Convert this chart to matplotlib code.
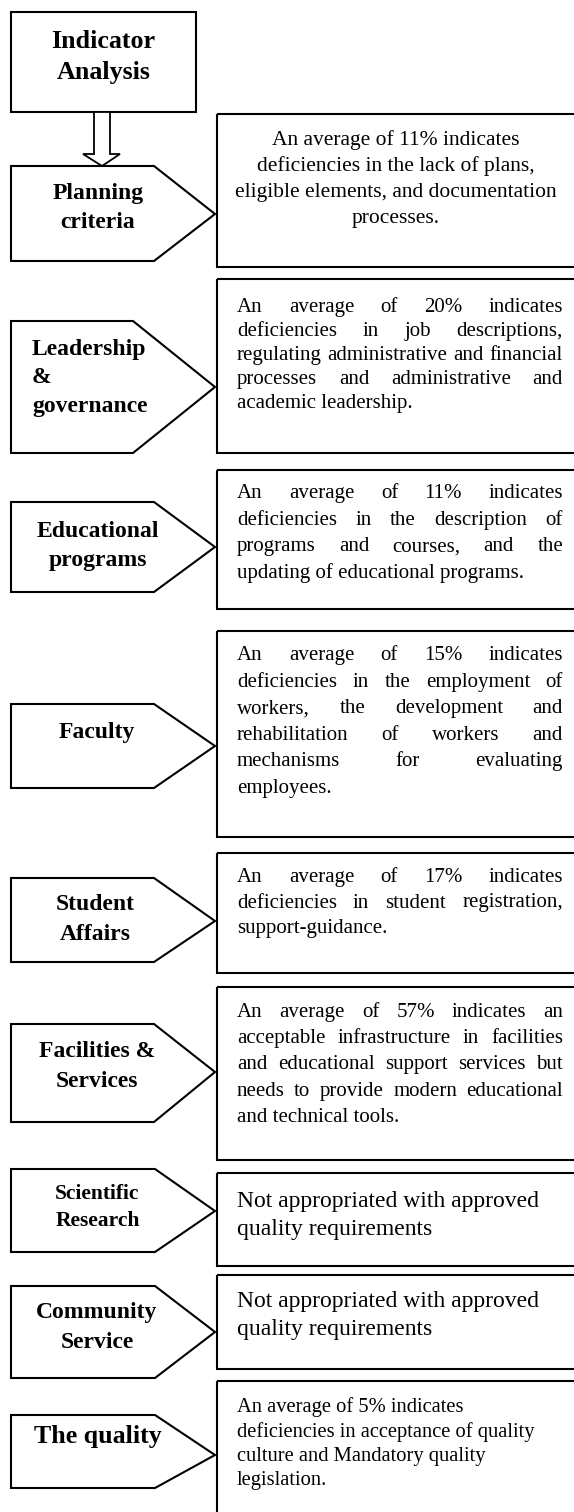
import matplotlib
matplotlib.use("Agg")
import matplotlib.pyplot as plt
from matplotlib.patches import Polygon, Rectangle

SERIF = "Liberation Serif"

# ---- content ----
title_lines = ["Indicator", "Analysis"]

criteria = [
    ["Planning", "criteria"],
    ["Leadership", "&", "governance"],
    ["Educational", "programs"],
    ["Faculty"],
    ["Student", "Affairs"],
    ["Facilities &", "Services"],
    ["Scientific", "Research"],
    ["Community", "Service"],
    ["The quality"],
]

findings = [
    ["An average of 11% indicates",
     "deficiencies in the lack of plans,",
     "eligible elements, and documentation",
     "processes."],
    ["An average of 20% indicates",
     "deficiencies in job descriptions,",
     "regulating administrative and financial",
     "processes and administrative and",
     "academic leadership."],
    ["An average of 11% indicates",
     "deficiencies in the description of",
     "programs and courses, and the",
     "updating of educational programs."],
    ["An average of 15% indicates",
     "deficiencies in the employment of",
     "workers, the development and",
     "rehabilitation of workers and",
     "mechanisms for evaluating",
     "employees."],
    ["An average of 17% indicates",
     "deficiencies in student registration,",
     "support-guidance."],
    ["An average of 57% indicates an",
     "acceptable infrastructure in facilities",
     "and educational support services but",
     "needs to provide modern educational",
     "and technical tools."],
    ["Not appropriated with approved",
     "quality requirements"],
    ["Not appropriated with approved",
     "quality requirements"],
    ["An average of 5% indicates",
     "deficiencies in acceptance of quality",
     "culture and Mandatory quality",
     "legislation."],
]

# ---- layout (pixel coordinates, y downwards) ----
# pentagon: top, bottom, flat right edge, tip y
pent = [(166, 261, 154, 214), (321, 453, 133, 387), (502, 592, 154, 547),
        (704, 788, 154, 746), (878, 962, 154, 921), (1024, 1122, 154, 1072),
        (1169, 1252, 155, 1211), (1286, 1378, 155, 1332), (1415, 1488, 155, 1455)]
# right boxes: top, bottom
boxes = [(114, 267), (279, 453), (470, 609), (631, 837), (853, 973),
         (987, 1160), (1173, 1266), (1275, 1369), (1381, 1540)]
# label: x, align, size, baselines
label_pos = [(98, "center", 17, [199, 228]),
             (32, "left", 17, [355, 383, 412]),
             (98, "center", 17, [537, 566]),
             (97, "center", 17, [738]),
             (95, "center", 17, [910, 940]),
             (97, "center", 17, [1057, 1087]),
             (97.5, "center", 15.5, [1199, 1226]),
             (97, "center", 17, [1318, 1348]),
             (98, "center", 18.6, [1443])]
# findings: mode, size, first baseline, spacing
text_pos = [("center", 15.5, 145, 26), ("justify", 15, 312, 24),
            ("justify", 15, 498, 26.7), ("justify", 15, 660, 26.6),
            ("justify", 15, 882, 25.5), ("justify", 15, 1017, 26.2),
            ("left", 17, 1207, 28), ("left", 17, 1307, 28),
            ("left", 14.8, 1412, 24.5)]

TIP_X = 215
PENT_L = 11
BOX_L = 217
TXT_L, TXT_R = 237, 563
LW = 1.5

fig = plt.figure(figsize=(5.74, 15.12), dpi=100)
ax = fig.add_axes([0, 0, 1, 1])
ax.set_xlim(0, 574)
ax.set_ylim(1512, 0)
ax.axis("off")
renderer = fig.canvas.get_renderer()


def word_width(word, size):
    t = ax.text(0, 0, word, fontsize=size, family=SERIF)
    w = t.get_window_extent(renderer).width
    t.remove()
    return w


# title box and hollow arrow
ax.add_patch(Rectangle((11, 12), 185, 100, fill=False, lw=LW, ec="black"))
for line, yb in zip(title_lines, [48, 79]):
    ax.text(103.5, yb, line, fontsize=18.7, family=SERIF, weight="bold",
            ha="center", va="baseline")
arrow = [(94, 112), (94, 154), (83, 154), (102, 166), (120, 154), (110, 154), (110, 112)]
ax.add_patch(Polygon(arrow, closed=True, fc="white", ec="black", lw=1.3))

for i in range(len(criteria)):
    top, bot, fr, ty = pent[i]
    ax.add_patch(Polygon([(PENT_L, top), (fr, top), (TIP_X, ty), (fr, bot), (PENT_L, bot)],
                         closed=True, fill=False, ec="black", lw=LW, joinstyle="miter"))
    btop, bbot = boxes[i]
    ax.add_patch(Rectangle((BOX_L, btop), 400, bbot - btop, fill=False, ec="black", lw=LW))

    lx, lal, lsz, lys = label_pos[i]
    for line, yb in zip(criteria[i], lys):
        ax.text(lx, yb, line, fontsize=lsz, family=SERIF, weight="bold",
                ha=lal, va="baseline")

    mode, sz, y0, dy = text_pos[i]
    lines = findings[i]
    for k, line in enumerate(lines):
        yb = y0 + k * dy
        if mode == "center":
            ax.text((BOX_L + 574) / 2, yb, line, fontsize=sz, family=SERIF,
                    ha="center", va="baseline")
        elif mode == "justify" and k < len(lines) - 1 and len(line.split()) > 1:
            words = line.split()
            widths = [word_width(w, sz) for w in words]
            gap = (TXT_R - TXT_L - sum(widths)) / (len(words) - 1)
            x = TXT_L
            for w, ww in zip(words, widths):
                ax.text(x, yb, w, fontsize=sz, family=SERIF, ha="left", va="baseline")
                x += ww + gap
        else:
            ax.text(TXT_L, yb, line, fontsize=sz, family=SERIF, ha="left", va="baseline")

fig.savefig("out.png", dpi=100, facecolor="white")
